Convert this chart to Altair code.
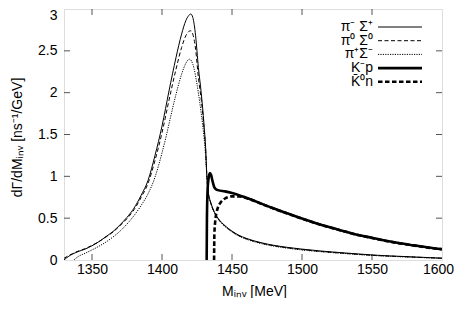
import altair as alt
import pandas as pd

# ---------------- data ----------------
pm_x = [1330, 1333, 1336, 1340, 1345, 1350, 1355, 1360, 1365, 1370, 1375, 1380, 1385, 1390, 1395,
        1400, 1405, 1410, 1414, 1417, 1419, 1420.5, 1422, 1424, 1426, 1428, 1430, 1431.3, 1432, 1433,
        1435, 1437.5, 1440, 1445, 1450, 1455, 1460, 1470, 1480, 1490, 1500, 1515, 1530, 1550, 1575, 1600]
pm_y = [0.0, 0.04, 0.07, 0.10, 0.13, 0.17, 0.22, 0.28, 0.34, 0.42, 0.51, 0.62, 0.77, 0.95, 1.25,
        1.60, 2.02, 2.42, 2.70, 2.86, 2.92, 2.94, 2.90, 2.68, 2.30, 2.00, 1.62, 1.30, 1.02, 0.82,
        0.68, 0.57, 0.50, 0.41, 0.345, 0.295, 0.26, 0.21, 0.175, 0.15, 0.13, 0.105, 0.085, 0.06, 0.04, 0.022]

z0_x = pm_x
z0_y = [0.02, 0.05, 0.075, 0.105, 0.135, 0.175, 0.22, 0.275, 0.335, 0.41, 0.495, 0.60, 0.745, 0.915, 1.19,
        1.52, 1.91, 2.28, 2.54, 2.68, 2.73, 2.74, 2.70, 2.52, 2.18, 1.92, 1.58, 1.28, 1.01, 0.81,
        0.67, 0.565, 0.495, 0.405, 0.34, 0.29, 0.255, 0.205, 0.17, 0.145, 0.125, 0.10, 0.08, 0.057, 0.038, 0.021]

pp_x = [1337, 1340, 1345, 1350, 1355, 1360, 1365, 1370, 1375, 1380, 1385, 1390, 1395, 1400, 1403,
        1406, 1410, 1414, 1417, 1419.5, 1421, 1423, 1425, 1427, 1429, 1430.5, 1431.5, 1432.3, 1433, 1435,
        1437.5, 1440, 1445, 1450, 1455, 1460, 1470, 1480, 1490, 1500, 1515, 1530, 1550, 1575, 1600]
pp_y = [0.0, 0.04, 0.08, 0.12, 0.165, 0.215, 0.275, 0.345, 0.43, 0.53, 0.65, 0.79, 0.99, 1.28, 1.48,
        1.70, 1.98, 2.22, 2.35, 2.40, 2.38, 2.28, 2.10, 1.88, 1.62, 1.38, 1.15, 0.92, 0.80, 0.67,
        0.56, 0.49, 0.40, 0.335, 0.285, 0.25, 0.20, 0.165, 0.14, 0.12, 0.097, 0.078, 0.055, 0.036, 0.02]

km_x = [1431.9, 1432.1, 1432.6, 1433.3, 1434.2, 1435, 1436, 1437.2, 1438.5, 1440, 1445, 1450, 1455, 1460,
        1465, 1470, 1480, 1490, 1500, 1510, 1520, 1530, 1540, 1550, 1560, 1570, 1580, 1590, 1600]
km_y = [0.0, 0.5, 0.85, 0.98, 1.04, 1.02, 0.95, 0.875, 0.845, 0.835, 0.82, 0.80, 0.775, 0.745,
        0.715, 0.68, 0.615, 0.555, 0.495, 0.44, 0.39, 0.345, 0.30, 0.265, 0.23, 0.20, 0.175, 0.15, 0.13]

k0_x = [1437.2, 1437.4, 1438, 1439, 1440, 1442, 1445, 1450, 1455, 1460, 1465, 1470, 1480, 1490, 1500,
        1510, 1520, 1530, 1540, 1550, 1560, 1570, 1580, 1590, 1600]
k0_y = [0.0, 0.3, 0.46, 0.57, 0.63, 0.69, 0.735, 0.76, 0.76, 0.742, 0.712, 0.678, 0.613, 0.553, 0.493,
        0.438, 0.388, 0.343, 0.298, 0.263, 0.228, 0.198, 0.173, 0.148, 0.128]

labels = ["π⁻ Σ⁺", "π⁰ Σ⁰", "π⁺Σ⁻", "K⁻p", "K\u0304⁰n"]
x_ticks = [1350, 1400, 1450, 1500, 1550, 1600]
y_ticks = [0, 0.5, 1, 1.5, 2, 2.5, 3]

# ---------------- styles ----------------
styles = [  # (strokeWidth, dash)
    (1.0, None),
    (1.0, [4, 2.5]),
    (1.0, [1.2, 1.2]),
    (2.6, None),
    (2.6, [4.5, 2.5]),
]
series_xy = [(pm_x, pm_y), (z0_x, z0_y), (pp_x, pp_y), (km_x, km_y), (k0_x, k0_y)]

rows = []
for lab, (xs, ys) in zip(labels, series_xy):
    for a, b in zip(xs, ys, strict=True):
        rows.append({"series": lab, "x": a, "y": b})
df = pd.DataFrame(rows)

W, H = 378, 251
FONT = "Liberation Sans"
FRAME = "#555555"

x_enc = alt.X("x:Q", scale=alt.Scale(domain=[1330, 1600], nice=False, zero=False),
              axis=alt.Axis(values=x_ticks, format="d", ticks=False, domain=False, grid=False,
                            labelFlush=False, labelOverlap=False,
                            labelPadding=2, labelFontSize=14, labelFont=FONT, labelColor="black",
                            labelOffset={"condition": {"test": "datum.value === 1600", "value": -4}, "value": 0},
                            title="Mᵢₙᵥ [MeV]", titleFont=FONT, titleFontSize=14,
                            titleFontWeight="normal", titleColor="black",
                            titleX=190, titleY=35, titleBaseline="alphabetic", titleAlign="center"))
y_enc = alt.Y("y:Q", scale=alt.Scale(domain=[0, 3], nice=False, zero=False),
              axis=alt.Axis(values=y_ticks, format="~g", ticks=False, domain=False, grid=False,
                            labelFlush=False, labelOverlap=False,
                            labelPadding=7, labelFontSize=14, labelFont=FONT, labelColor="black",
                            labelOffset={"condition": {"test": "datum.value === 3", "value": 6}, "value": 0},
                            title="dΓ/dMᵢₙᵥ [ns⁻¹/GeV]", titleFont=FONT, titleFontSize=14,
                            titleFontWeight="normal", titleColor="black", titleAngle=-90,
                            titleX=-47, titleY=128, titleBaseline="middle", titleAlign="center"))

layers = []

# inward ticks on all four sides
xt = pd.DataFrame({"x": x_ticks[:-1]})
yt = pd.DataFrame({"y": y_ticks[1:-1]})
layers.append(alt.Chart(xt).mark_rule(color=FRAME, strokeWidth=1).encode(
    x=x_enc, y=alt.value(H), y2=alt.value(H - 6)))
layers.append(alt.Chart(xt).mark_rule(color=FRAME, strokeWidth=1).encode(
    x=x_enc, y=alt.value(0), y2=alt.value(6)))
layers.append(alt.Chart(yt).mark_rule(color=FRAME, strokeWidth=1).encode(
    y=y_enc, x=alt.value(0), x2=alt.value(6)))
layers.append(alt.Chart(yt).mark_rule(color=FRAME, strokeWidth=1).encode(
    y=y_enc, x=alt.value(W - 6), x2=alt.value(W)))

# curves
for lab, (sw, dash) in zip(labels, styles):
    kw = dict(color="black", strokeWidth=sw, interpolate="monotone", clip=True)
    if dash is not None:
        kw["strokeDash"] = dash
    layers.append(alt.Chart(df).transform_filter(alt.datum.series == lab)
                  .mark_line(**kw).encode(x=x_enc, y=y_enc))

# legend (top right, inside the frame)
leg_top, leg_step = 18, 13.7
for i, (lab, (sw, dash)) in enumerate(zip(labels, styles)):
    ly = leg_top + i * leg_step
    ldf = pd.DataFrame({"label": [lab]})
    layers.append(alt.Chart(ldf).mark_text(align="right", baseline="middle", font=FONT,
                                           fontSize=14, color="black").encode(
        x=alt.value(309), y=alt.value(ly), text="label:N"))
    kw = dict(color="black", strokeWidth=sw)
    if dash is not None:
        kw["strokeDash"] = dash
    layers.append(alt.Chart(ldf).mark_rule(**kw).encode(
        x=alt.value(314), x2=alt.value(358), y=alt.value(ly)))

chart = alt.layer(*layers).properties(
    width=W, height=H,
    autosize=alt.AutoSizeParams(type="none"),
    padding={"left": 56, "top": 1, "right": 13, "bottom": 38},
).configure_view(stroke=FRAME, strokeWidth=1).configure(background="white")

chart.save("out.html", embed_options={"renderer": "svg", "actions": False})
